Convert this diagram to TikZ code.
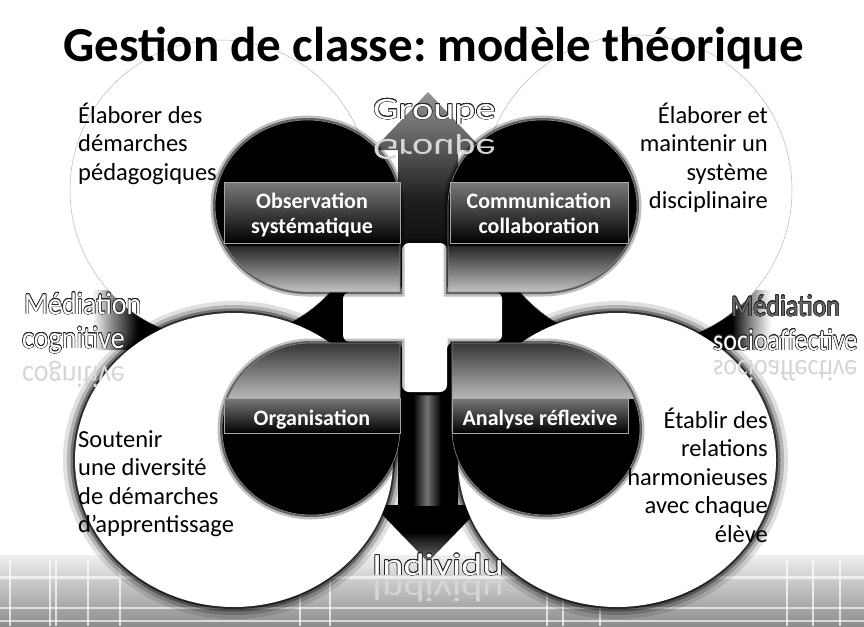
\documentclass[tikz,border=0pt]{standalone}
\usepackage{fontspec}
\setmainfont{Carlito}
\usepackage{graphicx}
\usepackage{contour}
\contourlength{0.5pt}
\frenchspacing

% shadings of the four arms of the cross arrow (dark centre, pale tips)
\pgfdeclareverticalshading{armup}{100bp}{color(0bp)=(black); color(25bp)=(black); color(48bp)=(black!88); color(75bp)=(black!42); color(100bp)=(black!42)}
\pgfdeclareverticalshading{armdown}{100bp}{color(0bp)=(black!55); color(25bp)=(black!55); color(32bp)=(black); color(100bp)=(black)}
\pgfdeclarehorizontalshading{armleft}{100bp}{color(0bp)=(white); color(35bp)=(white); color(37.5bp)=(black!45); color(41bp)=(black); color(100bp)=(black)}
\pgfdeclarehorizontalshading{armright}{100bp}{color(0bp)=(black); color(60bp)=(black); color(62.5bp)=(black!45); color(65bp)=(white); color(100bp)=(white)}

% the four dark quadrants: a round disc with one square corner towards the centre
\newcommand\qTL{(400,292) -- (400,206) arc[start angle=0,end angle=-270,x radius=92.5,y radius=86] -- cycle}
\newcommand\qTR{(448,292) -- (542.5,292) arc[start angle=90,end angle=-180,x radius=94.5,y radius=86] -- cycle}
\newcommand\qBL{(400,343) -- (311,343) arc[start angle=270,end angle=0,x radius=89,y radius=86] -- cycle}
\newcommand\qBR{(452,343) -- (452,429) arc[start angle=180,end angle=-90,x radius=94,y radius=86] -- cycle}
% white cross in the middle
\newcommand\crosspath{[rounded corners=7pt] (402,243) -- (447,243) -- (447,292) -- (502,292) -- (502,342) -- (447,342) -- (447,392) -- (402,392) -- (402,342) -- (343,342) -- (343,292) -- (402,292) -- cycle}

\newcommand\darkquad[1]{%
  \draw[black, opacity=.25, line width=9pt] #1;
  \draw[black, opacity=.5, line width=4pt] #1;
  \fill[black] #1;
}
\newcommand\softring[1]{%
  \foreach \w/\o in {24/.12,16/.2,9/.35,4/.6}
    \draw[black, opacity=\o, line width=\w pt] (#1) ellipse [x radius=159, y radius=147];
}

\begin{document}
\begin{tikzpicture}[x=1pt,y=-1pt,
  bodytext/.style={inner sep=0pt, text=black, font=\fontsize{24.5}{28.5}\selectfont},
  bartext/.style={inner sep=0pt, text=white, font=\bfseries\fontsize{22}{25}\selectfont},
  labelbar/.style={draw=black!35, line width=0.6pt, top color=black!52, bottom color=black},
  armlabel/.style={inner sep=0pt, text=white},
  reflect/.style={inner sep=0pt, text=black!16},
  topring/.style={draw=black!28, line width=0.5pt, fill=white},
  floorline/.style={white, opacity=.7, line width=1.2pt}]
\useasboundingbox (0,0) rectangle (864,626);
\fill[white] (0,0) rectangle (864,626);

% floor with light grid
\shade[top color=black!6, bottom color=black!45] (0,555) rectangle (864,626);
\foreach \fy/\fw in {577/3,608/1.5,621/2}
  \draw[white, opacity=.65, line width=\fw pt] (0,\fy) -- (864,\fy);
\foreach \fx in {10,50,56,88,120,300,330,547,563,600,787,813,840}
  \draw[floorline] (\fx,560) -- (\fx,626);

% cross arrow behind everything
\shade[shading=armup] (398,292) -- (398,150) -- (373,150) -- (428,92) -- (483,150) -- (458,150) -- (458,292) -- cycle;
\shade[shading=armdown] (398,345) -- (398,505) -- (373,505) -- (428,562) -- (483,505) -- (458,505) -- (458,345) -- cycle;
\shade[shading=armleft] (400,290) -- (75,290) -- (75,262) -- (15,320) -- (75,378) -- (75,350) -- (400,350) -- cycle;
\shade[shading=armright] (456,290) -- (785,290) -- (785,262) -- (850,320) -- (785,378) -- (785,350) -- (456,350) -- cycle;
\fill[black] (396,288) rectangle (460,352);
\shade[left color=black, right color=black, middle color=black!55] (413,395) rectangle (441,505);

% large circles
\filldraw[topring] (220,190) circle[radius=150];
\filldraw[topring] (637,190) circle[radius=155];
\softring{234,460}
\softring{617,460}
\fill[white] (234,460) ellipse [x radius=159, y radius=147];
\fill[white] (617,460) ellipse [x radius=159, y radius=147];

% white centre
\draw[black, opacity=.25, line width=8pt] \crosspath;
\draw[black, opacity=.45, line width=4pt] \crosspath;
\fill[white] \crosspath;

% dark quadrants with glossy bands
\darkquad{\qTL}
\darkquad{\qTR}
\darkquad{\qBL}
\darkquad{\qBR}
\begin{scope}
  \clip \qTL;
  \shade[top color=black!85, bottom color=black!22] (200,246) rectangle (410,293);
\end{scope}
\begin{scope}
  \clip \qTR;
  \shade[top color=black!85, bottom color=black!22] (440,246) rectangle (650,293);
\end{scope}
\begin{scope}
  \clip \qBL;
  \shade[top color=black!80, bottom color=black!28] (210,342) rectangle (410,398);
\end{scope}
\begin{scope}
  \clip \qBR;
  \shade[top color=black!80, bottom color=black!28] (440,342) rectangle (650,398);
\end{scope}
\draw[black!45, line width=.6pt] \qTL;
\draw[black!45, line width=.6pt] \qTR;
\draw[black!45, line width=.6pt] \qBL;
\draw[black!45, line width=.6pt] \qBR;

% label bars
\shadedraw[labelbar] (224,182) rectangle (400,243);
\shadedraw[labelbar] (450,182) rectangle (628,243);
\shadedraw[labelbar] (224,398) rectangle (400,433);
\shadedraw[labelbar] (452,398) rectangle (628,433);
\node[bartext, anchor=base] (obs) at (312,208) {\parbox[t]{170pt}{\centering Observation\\systématique}};
\node[bartext, anchor=base] (com) at (539,208) {\parbox[t]{170pt}{\centering Communication\\collaboration}};
\node[bartext, anchor=base] (org) at (312,425) {Organisation};
\node[bartext, anchor=base] (ana) at (540,425) {Analyse réflexive};

% labels of the arrow arms, with faint reflections
\node[armlabel, anchor=base west] (groupe) at (373,119) {\fontsize{31}{31}\selectfont\scalebox{1.3}[1]{\contour{black!85}{Groupe}}};
\node[reflect, anchor=base west] (groupeR) at (373,139) {\fontsize{31}{31}\selectfont\scalebox{1.3}[-1]{Groupe}};
\node[armlabel, anchor=base west] (indiv) at (372,575) {\fontsize{31}{31}\selectfont\scalebox{1.3}[1]{\contour{black!85}{Individu}}};
\node[reflect, anchor=base west] (indivR) at (372,580) {\fontsize{31}{31}\selectfont\scalebox{1.3}[-1]{Individu}};
\node[armlabel, anchor=base west] (medc1) at (24,314) {\fontsize{28}{28}\selectfont\scalebox{1}[1.1]{\contour{black!85}{Médiation}}};
\node[armlabel, anchor=base west] (medc2) at (22,348) {\fontsize{28}{28}\selectfont\scalebox{1}[1.1]{\contour{black!85}{cognitive}}};
\node[reflect, anchor=base west] (medc2R) at (22,366) {\fontsize{28}{28}\selectfont\scalebox{1}[-1.1]{cognitive}};
\node[armlabel, text=black!60, anchor=base west] (meds1) at (731,316) {\fontsize{26}{26}\selectfont\scalebox{1}[1.15]{\contour{black!85}{Médiation}}};
\node[armlabel, anchor=base west] (meds2) at (713,350) {\fontsize{26}{26}\selectfont\scalebox{1}[1.15]{\contour{black!85}{socioaffective}}};
\node[reflect, anchor=base west] (meds2R) at (713,360) {\fontsize{26}{26}\selectfont\scalebox{1}[-1.15]{socioaffective}};

% texts in the large circles
\node[bodytext, anchor=base west] (tl) at (78,123) {\parbox[t]{200pt}{\raggedright Élaborer des\\démarches\\pédagogiques}};
\node[bodytext, anchor=base east] (tr) at (768,123) {\parbox[t]{200pt}{\raggedleft Élaborer et\\maintenir un\\système\\disciplinaire}};
\node[bodytext, anchor=base west] (bl) at (78,447) {\parbox[t]{200pt}{\raggedright Soutenir\\une diversité\\de démarches\\d’apprentissage}};
\node[bodytext, anchor=base east] (br) at (768,428) {\parbox[t]{200pt}{\raggedleft Établir des\\relations\\harmonieuses\\avec chaque\\élève}};

% title
\node[anchor=base, inner sep=0pt, font=\bfseries\fontsize{49}{55}\selectfont] (title) at (433.5,62) {Gestion de classe: modèle théorique};
\end{tikzpicture}
\end{document}
